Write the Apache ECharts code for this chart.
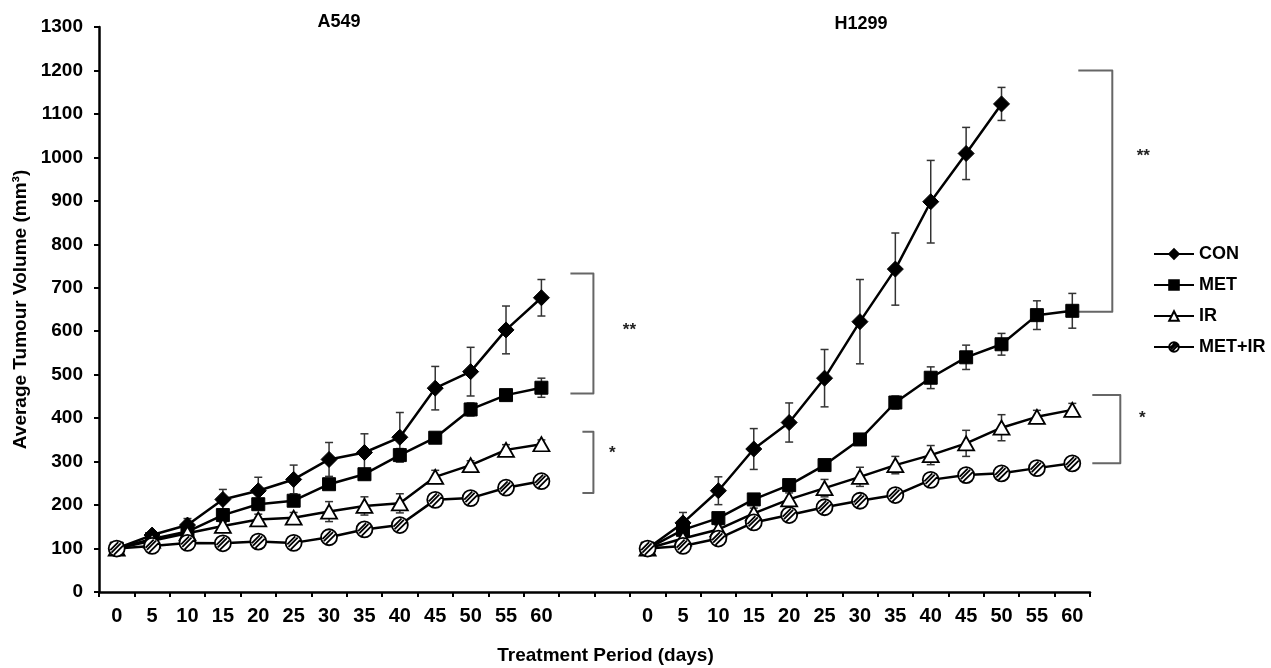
<!DOCTYPE html>
<html>
<head>
<meta charset="utf-8">
<title>Tumour volume</title>
<script src="https://cdn.jsdelivr.net/npm/echarts@6/dist/echarts.min.js"></script>
<style>
	html, body { margin: 0; padding: 0; background: #fff; }
	#chart { width: 1271px; height: 668px; }
</style>
</head>
<body>
<div id="chart"></div>
<script>
// x categories: A549 days, two empty slots, H1299 days
const days = ['0', '5', '10', '15', '20', '25', '30', '35', '40', '45', '50', '55', '60']
const gapSlots = ['', '']
const categories = days.concat(gapSlots, days)
const yTicks = { min: 0, max: 1300, interval: 100 }

const seriesNames = ['CON', 'MET', 'IR', 'MET+IR']

// A549 means and error
const conA549 = [100, 131, 154, 213, 233, 259, 305, 321, 356, 469, 507, 603, 677]
const conA549Err = [2, 8, 15, 23, 31, 33, 39, 43, 57, 50, 56, 55, 42]
const metA549 = [100, 122, 139, 177, 202, 210, 248, 271, 315, 355, 420, 453, 470]
const metA549Err = [2, 5, 6, 10, 12, 12, 10, 12, 15, 10, 15, 12, 22]
const irA549 = [100, 118, 135, 152, 167, 171, 185, 198, 204, 265, 292, 327, 340]
const irA549Err = [2, 5, 5, 8, 12, 12, 23, 21, 22, 15, 10, 12, 10]
const metIrA549 = [100, 106, 113, 112, 116, 113, 126, 144, 154, 212, 216, 240, 255]
const metIrA549Err = [2, 4, 4, 4, 4, 4, 5, 5, 6, 6, 6, 6, 6]

// H1299
const conH1299 = [100, 159, 233, 329, 390, 492, 622, 743, 898, 1009, 1123]
const conH1299Err = [2, 24, 32, 47, 45, 66, 97, 83, 95, 60, 38]
const metH1299 = [100, 143, 170, 213, 246, 292, 351, 436, 493, 540, 570, 637, 647]
const metH1299Err = [2, 8, 8, 10, 10, 10, 12, 15, 25, 28, 25, 33, 40]
const irH1299 = [100, 123, 144, 181, 213, 239, 265, 292, 315, 342, 378, 403, 419]
const irH1299Err = [2, 8, 10, 12, 15, 20, 22, 20, 22, 30, 30, 15, 15]
const metIrH1299 = [100, 106, 123, 160, 177, 195, 210, 223, 258, 269, 273, 285, 296]
const metIrH1299Err = [2, 4, 5, 5, 5, 5, 6, 6, 6, 6, 6, 6, 15]

// significance brackets: last category index, top, bottom, label and its level
const bracketCol = [12, 12, 27, 27]
const bracketTop = [733, 369, 1200, 453]
const bracketBottom = [457, 228, 645, 296]
const bracketLabel = ['**', '*', '**', '*']
const bracketLabelY = [602, 318, 1003, 400]
// pixel offsets from the category centre (style only)
const bracketLeftPx = [29, 41, 6, 20]
const bracketRightPx = [52, 52, 40, 48]
const bracketTextPx = [88, 71, 71, 70]

const FONT = '"Liberation Sans", Arial, sans-serif'

const joinPanels = (a, b) => a.concat([null, null], b)

const hatchCircle = 'path://M0,10A10,10,0,1,1,20,10A10,10,0,1,1,0,10Z M3.5,15L15,3.5 M6.5,18L18,6.5 M2,12L12,2'

const symbols = [
	{ symbol: 'diamond', size: 16, fill: '#000', border: 1 },
	{ symbol: 'rect', size: 13, fill: '#000', border: 1 },
	{ symbol: 'triangle', size: [16, 14], fill: '#fff', border: 1.8 },
	{ symbol: hatchCircle, size: 16, fill: '#fff', border: 1.8 }
]

const means = [
	joinPanels(conA549, conH1299),
	joinPanels(metA549, metH1299),
	joinPanels(irA549, irH1299),
	joinPanels(metIrA549, metIrH1299)
]
const errors = [
	joinPanels(conA549Err, conH1299Err),
	joinPanels(metA549Err, metH1299Err),
	joinPanels(irA549Err, irH1299Err),
	joinPanels(metIrA549Err, metIrH1299Err)
]

const lineSeries = seriesNames.map((name, k) => ({
	name: name,
	type: 'line',
	data: means[k],
	connectNulls: false,
	showAllSymbol: true,
	symbol: symbols[k].symbol,
	symbolSize: symbols[k].size,
	z: 3,
	lineStyle: { color: '#000', width: 2.5 },
	itemStyle: { color: symbols[k].fill, borderColor: '#000', borderWidth: symbols[k].border },
	emphasis: { disabled: true }
}))

const errorSeries = seriesNames.map((name, k) => {
	const data = []
	means[k].forEach((v, i) => {
		if (v != null) data.push([i, v - errors[k][i], v + errors[k][i]])
	})
	return {
		name: name + ' error',
		type: 'custom',
		silent: true,
		z: 2,
		data: data,
		encode: { x: 0, y: [1, 2] },
		renderItem: (params, api) => {
			const i = api.value(0)
			const lo = api.coord([i, api.value(1)])
			const hi = api.coord([i, api.value(2)])
			const cap = 4
			const st = { stroke: '#333', lineWidth: 1.5 }
			return {
				type: 'group',
				children: [
					{ type: 'line', shape: { x1: lo[0], y1: lo[1], x2: hi[0], y2: hi[1] }, style: st },
					{ type: 'line', shape: { x1: hi[0] - cap, y1: hi[1], x2: hi[0] + cap, y2: hi[1] }, style: st },
					{ type: 'line', shape: { x1: lo[0] - cap, y1: lo[1], x2: lo[0] + cap, y2: lo[1] }, style: st }
				]
			}
		}
	}
})

const bracketSeries = {
	name: 'brackets',
	type: 'custom',
	silent: true,
	z: 2,
	data: bracketCol.map((c, i) => [c, bracketTop[i], bracketBottom[i], bracketLabelY[i]]),
	renderItem: (params, api) => {
		const k = params.dataIndex
		const top = api.coord([api.value(0), api.value(1)])
		const bottom = api.coord([api.value(0), api.value(2)])
		const mid = api.coord([api.value(0), api.value(3)])
		const x0 = top[0] + bracketLeftPx[k]
		const x1 = top[0] + bracketRightPx[k]
		return {
			type: 'group',
			children: [
				{
					type: 'polyline',
					shape: { points: [[x0, top[1]], [x1, top[1]], [x1, bottom[1]], [x0, bottom[1]]] },
					style: { stroke: '#666', lineWidth: 2, fill: null, lineJoin: 'round' }
				},
				{
					type: 'text',
					x: top[0] + bracketTextPx[k],
					y: mid[1],
					style: {
						text: bracketLabel[k], fill: '#222', font: 'bold 17px ' + FONT,
						align: 'center', verticalAlign: 'middle'
					}
				}
			]
		}
	}
}

const chart = echarts.init(document.getElementById('chart'))

const option = {
	animation: false,
	backgroundColor: '#fff',
	textStyle: { fontFamily: FONT },
	graphic: [
		{ type: 'text', x: 339, y: 22, style: { text: 'A549', font: 'bold 18px ' + FONT, fill: '#000', align: 'center', verticalAlign: 'middle' } },
		{ type: 'text', x: 861, y: 24, style: { text: 'H1299', font: 'bold 18px ' + FONT, fill: '#000', align: 'center', verticalAlign: 'middle' } }
	],
	legend: {
		data: seriesNames,
		orient: 'vertical',
		left: 1148,
		top: 240,
		itemWidth: 40,
		itemHeight: 12,
		itemGap: 13,
		textStyle: { fontSize: 18, fontWeight: 'bold', color: '#000', fontFamily: FONT }
	},
	grid: {
		left: 99,
		right: 181,
		top: 27,
		bottom: 76,
		containLabel: false,
		outerBoundsMode: 'none'
	},
	xAxis: {
		type: 'category',
		data: categories,
		boundaryGap: true,
		name: 'Treatment Period (days)',
		nameLocation: 'middle',
		nameGap: 54,
		nameTextStyle: { fontSize: 19, fontWeight: 'bold', color: '#000', padding: [0, 0, 0, 22] },
		axisLine: { show: true, lineStyle: { color: '#000', width: 2.5 } },
		axisTick: { show: true, length: 5, inside: false, interval: 0, lineStyle: { color: '#000', width: 2 } },
		axisLabel: { interval: 0, margin: 14, fontSize: 20, fontWeight: 'bold', color: '#000' },
		splitLine: { show: false }
	},
	yAxis: {
		type: 'value',
		min: yTicks.min,
		max: yTicks.max,
		interval: yTicks.interval,
		name: 'Average Tumour Volume (mm\u00b3)',
		nameLocation: 'middle',
		nameGap: 60,
		nameTextStyle: { fontSize: 19, fontWeight: 'bold', color: '#000' },
		axisLine: { show: true, lineStyle: { color: '#000', width: 2.5 } },
		axisTick: { show: true, length: 5, inside: false, lineStyle: { color: '#000', width: 2 } },
		axisLabel: { margin: 16, fontSize: 19, fontWeight: 'bold', color: '#000', formatter: v => String(v) },
		splitLine: { show: false }
	},
	series: lineSeries.concat(errorSeries, [bracketSeries])
}

chart.setOption(option)
</script>
</body>
</html>
